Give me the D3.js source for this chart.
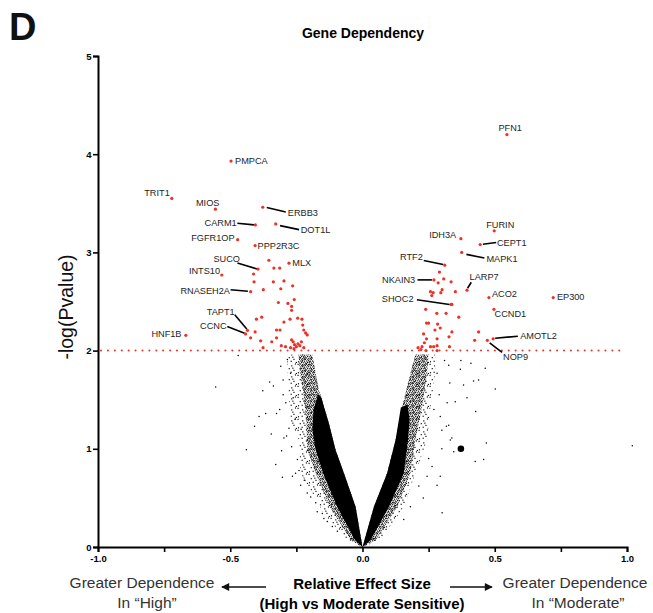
<!DOCTYPE html>
<html><head><meta charset="utf-8">
<script src="https://cdn.jsdelivr.net/npm/d3@7"></script>
<style>
html,body{margin:0;padding:0;background:#fff;}
svg{display:block;font-family:"Liberation Sans",Arial,Helvetica,sans-serif;}
</style></head>
<body>
<svg id="chart" width="653" height="613"></svg>
<script>
// ---------- DATA (effect size, -log p) ----------
const xTickValues = [-1, -0.75, -0.5, -0.25, 0, 0.25, 0.5, 0.75, 1];
const xTickLabels = ["-1.0", "", "-0.5", "", "0.0", "", "0.5", "", "1.0"];
const yTickValues = [0, 1, 2, 3, 4, 5];
const threshold = 2;

// envelopes of the dense (non-significant) gene cloud, left arm
const leftInnerEdge = [[0,0],[-0.026,0.41],[-0.07,0.75],[-0.102,0.99],[-0.127,1.26],[-0.146,1.43],[-0.165,1.6],[-0.177,1.77],[-0.19,1.96]];
const leftCoreOuter = [[0,0],[-0.028,0.07],[-0.096,0.41],[-0.149,0.75],[-0.177,0.99],[-0.19,1.2],[-0.185,1.4],[-0.168,1.55]];
const leftDenseOuter = [[0,0],[-0.045,0.07],[-0.123,0.41],[-0.177,0.75],[-0.209,0.99],[-0.212,1.26],[-0.218,1.43],[-0.225,1.6],[-0.236,1.77],[-0.242,1.96]];
const leftHaloOuter = [[0,0],[-0.06,0.07],[-0.146,0.34],[-0.196,0.58],[-0.234,0.75],[-0.24,1.09],[-0.27,1.26],[-0.28,1.6],[-0.285,1.96]];
// right arm
const rightInnerEdge = [[0,0],[0.043,0.41],[0.093,0.75],[0.125,1.09],[0.15,1.43],[0.181,1.77],[0.2,1.96]];
const rightCoreOuter = [[0,0],[0.03,0.07],[0.1,0.41],[0.156,0.75],[0.172,1.09],[0.178,1.3],[0.17,1.45]];
const rightDenseOuter = [[0,0],[0.05,0.07],[0.131,0.41],[0.181,0.75],[0.2,1.09],[0.225,1.43],[0.244,1.77],[0.25,1.96]];
const rightHaloOuter = [[0,0],[0.068,0.07],[0.156,0.41],[0.2,0.75],[0.244,1.09],[0.257,1.43],[0.275,1.77],[0.275,1.96]];

// scattered non-significant genes
const blackLeft = [[-0.555,1.63],[-0.47,1.95],[-0.439,0.99],[-0.408,1.23],[-0.391,1.33],[-0.377,1.59],[-0.366,1.36],[-0.351,1.68],[-0.345,1.15],[-0.337,1.64],[-0.328,0.84],[-0.325,1.36],[-0.313,1.40],[-0.309,1.84],[-0.306,0.98],[-0.303,0.71],[-0.297,1.11],[-0.29,1.47],[-0.287,1.13],[-0.284,1.91],[-0.278,1.21],[-0.272,1.77],[-0.265,0.72],[-0.253,0.75],[-0.246,0.89],[-0.24,0.78],[-0.234,0.63],[-0.209,0.55],[-0.196,0.51],[-0.177,0.45],[-0.171,0.36],[-0.152,0.34],[-0.146,0.29],[-0.133,0.26],[-0.114,0.21],[-0.095,0.16],[-0.3,1.55],[-0.262,1.52],[-0.268,1.02],[-0.255,1.3],[-0.22,0.68],[-0.232,1.2],[-0.3,1.7]];
const blackRight = [[0.301,0.35],[0.317,1.23],[0.326,1.85],[0.33,1.67],[0.338,1.11],[0.351,1.48],[0.372,1.90],[0.382,1.65],[0.395,1.52],[0.41,1.87],[0.42,1.69],[0.426,0.87],[0.428,1.38],[0.439,1.70],[0.458,0.89],[0.464,1.82],[0.468,1.06],[0.502,1.61],[0.294,1.33],[0.30,1.19],[0.332,1.09],[0.326,1.24],[0.263,0.82],[0.282,0.63],[0.244,0.72],[0.213,0.62],[0.181,0.41],[0.156,0.28],[0.345,0.97],[0.294,0.72],[0.32,1.47],[0.37,1.81],[0.282,1.77],[0.29,1.55],[0.31,1.9],[0.3,1.0],[0.27,1.4],[0.25,0.9],[0.23,0.5],[1.02,1.03]];
const bigBlack = [[0.372,1.0]];

// significant genes without a label
const redLeft = [[-0.354,2.92],[-0.335,2.84],[-0.313,2.84],[-0.412,2.78],[-0.41,2.70],[-0.337,2.70],[-0.297,2.71],[-0.375,2.62],[-0.309,2.63],[-0.264,2.66],[-0.318,2.49],[-0.282,2.48],[-0.258,2.52],[-0.268,2.45],[-0.268,2.41],[-0.401,2.32],[-0.381,2.34],[-0.297,2.29],[-0.274,2.32],[-0.245,2.33],[-0.229,2.32],[-0.226,2.26],[-0.222,2.21],[-0.215,2.18],[-0.209,2.16],[-0.325,2.21],[-0.312,2.21],[-0.406,2.19],[-0.423,2.13],[-0.385,2.10],[-0.343,2.09],[-0.325,2.13],[-0.376,2.03],[-0.307,2.05],[-0.268,2.11],[-0.262,2.09],[-0.257,2.06],[-0.25,2.04],[-0.244,2.07],[-0.237,2.05],[-0.222,2.03],[-0.272,2.03],[-0.291,2.04],[-0.259,2.02],[-0.231,2.09]];
const redRight = [[0.291,2.80],[0.307,2.73],[0.286,2.69],[0.335,2.70],[0.351,2.60],[0.257,2.60],[0.267,2.59],[0.262,2.56],[0.301,2.62],[0.296,2.59],[0.335,2.47],[0.239,2.42],[0.281,2.38],[0.316,2.38],[0.364,2.34],[0.242,2.28],[0.25,2.28],[0.284,2.27],[0.274,2.21],[0.338,2.19],[0.294,2.23],[0.231,2.17],[0.242,2.12],[0.282,2.12],[0.327,2.14],[0.439,2.19],[0.424,2.105],[0.234,2.08],[0.225,2.04],[0.21,2.03],[0.221,2.01],[0.257,2.04],[0.269,2.04],[0.282,2.05],[0.329,2.04],[0.24,2.0],[0.282,2.0]];

// labelled significant genes
const geneNames = ["PMPCA","TRIT1","MIOS","ERBB3","CARM1","DOT1L","FGFR1OP","PPP2R3C","SUCO","MLX","INTS10","RNASEH2A","TAPT1","CCNC","HNF1B","PFN1","FURIN","IDH3A","CEPT1","MAPK1","RTF2","NKAIN3","LARP7","ACO2","EP300","SHOC2","CCND1","AMOTL2","NOP9"];
const geneEffect = [-0.497,-0.721,-0.556,-0.377,-0.405,-0.328,-0.472,-0.406,-0.395,-0.278,-0.532,-0.423,-0.435,-0.442,-0.668,0.546,0.498,0.372,0.445,0.375,0.311,0.27,0.395,0.478,0.721,0.338,0.497,0.494,0.472];
const geneLogP   = [3.93,3.55,3.44,3.46,3.28,3.29,3.13,3.07,2.83,2.89,2.77,2.60,2.206,2.17,2.156,4.20,3.22,3.14,3.08,3.0,2.87,2.72,2.615,2.54,2.54,2.47,2.42,2.12,2.105];

// ---------- LAYOUT (label placement, px relative to the point) ----------
const labelLayout = {
  PMPCA:{dx:4,dy:3.2,a:"start"}, TRIT1:{dx:-2,dy:-2,a:"end"}, MIOS:{dx:4,dy:-3,a:"end"},
  ERBB3:{dx:25,dy:8.5,a:"start",line:[4,0.3,23,4.7]}, CARM1:{dx:-18.7,dy:1.2,a:"end",line:[-18,-1.6,-1.4,0]},
  DOT1L:{dx:25,dy:9,a:"start",line:[4.3,1.7,23.3,5.7]}, FGFR1OP:{dx:-3,dy:1.8,a:"end"},
  PPP2R3C:{dx:2.4,dy:3.2,a:"start"}, SUCO:{dx:-18,dy:-7,a:"end",line:[-20.6,-6,-0.6,0]},
  MLX:{dx:3.4,dy:3.2,a:"start"}, INTS10:{dx:-1.7,dy:-0.7,a:"end"},
  RNASEH2A:{dx:-20.7,dy:2.2,a:"end",line:[-20,-2,-2.7,-0.4]},
  TAPT1:{dx:-12.7,dy:-15.5,a:"end",line:[-12.7,-15.7,-0.7,-1.4]},
  CCNC:{dx:-19,dy:-5,a:"end",line:[-18.3,-7.3,-1,-0.7]}, HNF1B:{dx:-4.3,dy:1.3,a:"end"},
  PFN1:{dx:3.3,dy:-3.7,a:"middle"}, FURIN:{dx:-8,dy:-2.5,a:"start"}, IDH3A:{dx:-4.7,dy:-0.3,a:"end"},
  CEPT1:{dx:16.7,dy:1.9,a:"start",line:[2.7,-0.3,16,-2]}, MAPK1:{dx:24.7,dy:9.8,a:"start",line:[4.7,2,22.7,5.6]},
  RTF2:{dx:-22,dy:-5.5,a:"end",line:[-21,-4.7,-1.6,-0.7]}, NKAIN3:{dx:-18.7,dy:3,a:"end",line:[-16.4,0,-2,0]},
  LARP7:{dx:2.6,dy:-10.2,a:"start",line:[4.3,-8,0.6,-2]}, ACO2:{dx:3,dy:-0.8,a:"start"},
  EP300:{dx:3.7,dy:2,a:"start"}, SHOC2:{dx:-38.4,dy:-2.5,a:"end",line:[-35,-4.7,-2.4,0]},
  CCND1:{dx:0.6,dy:7.2,a:"start"}, AMOTL2:{dx:27,dy:0,a:"start",line:[2,-0.6,24.7,-2.6]},
  NOP9:{dx:15.7,dy:19.3,a:"start",line:[2.3,2.6,14.7,12]}
};

const RED = "#ee3124";
const svg = d3.select("#chart");
const x = d3.scaleLinear().domain([-1, 1]).range([98, 627]);
const y = d3.scaleLinear().domain([0, 5]).range([547, 56]);

// stipple textures (styling only)
const defs = svg.append("defs");
function stipple(id, size, dots){
  const p = defs.append("pattern").attr("id",id).attr("patternUnits","userSpaceOnUse").attr("width",size).attr("height",size);
  dots.forEach(q=>p.append("rect").attr("x",q[0]).attr("y",q[1]).attr("width",1.15).attr("height",1.15).attr("fill","#000"));
}
stipple("sparse", 11, [[0.5,0.8],[5.2,2.3],[8.9,0.4],[2.7,5.1],[7.4,6.8],[0.9,9.2],[4.6,8.7],[9.8,9.9],[6.3,4.6]]);
stipple("dense", 6, [[0.2,0.4],[2.1,0.1],[4.0,0.6],[1.1,1.9],[3.2,2.2],[5.0,2.5],[0.1,3.4],[2.2,3.9],[4.2,4.1],[1.2,5.1],[3.3,5.4],[5.1,4.8]]);

function outline(outer, inner){ return outer.concat(inner.slice().reverse()); }
const line = d3.line().x(d=>x(d[0])).y(d=>y(d[1])).curve(d3.curveLinearClosed);
const cloud = svg.append("g");
cloud.append("path").attr("d", line(outline(leftHaloOuter, leftInnerEdge))).attr("fill","url(#sparse)");
cloud.append("path").attr("d", line(outline(rightHaloOuter, rightInnerEdge))).attr("fill","url(#sparse)");
cloud.append("path").attr("d", line(outline(leftDenseOuter, leftInnerEdge))).attr("fill","url(#dense)");
cloud.append("path").attr("d", line(outline(rightDenseOuter, rightInnerEdge))).attr("fill","url(#dense)");
cloud.append("path").attr("d", line(outline(leftCoreOuter, leftInnerEdge.filter(d=>d[1]<=1.43).concat([[-0.155,1.52]])))).attr("fill","#000");
cloud.append("path").attr("d", line(outline(rightCoreOuter, rightInnerEdge.filter(d=>d[1]<=1.09).concat([[0.145,1.42]])))).attr("fill","#000");

cloud.selectAll("circle.b").data(blackLeft.concat(blackRight)).join("circle")
  .attr("cx",d=>x(d[0])).attr("cy",d=>y(d[1])).attr("r",0.75).attr("fill","#000");
cloud.selectAll("circle.big").data(bigBlack).join("circle")
  .attr("cx",d=>x(d[0])).attr("cy",d=>y(d[1])).attr("r",3.3).attr("fill","#000");

// threshold line
svg.append("line").attr("x1",x(-1)+3).attr("x2",x(0.98)).attr("y1",y(threshold)).attr("y2",y(threshold))
  .attr("stroke",RED).attr("stroke-width",2).attr("stroke-linecap","round").attr("stroke-dasharray","0.01,6.9");

// axes
const xAxis = svg.append("g").attr("transform",`translate(0,${y(0)})`)
  .call(d3.axisBottom(x).tickValues(xTickValues).tickFormat((d,i)=>xTickLabels[i]).tickSize(5).tickPadding(3));
const yAxis = svg.append("g").attr("transform",`translate(${x(-1)},0)`)
  .call(d3.axisLeft(y).tickValues(yTickValues).tickFormat(d3.format("d")).tickSize(5).tickPadding(1.5));
[xAxis,yAxis].forEach(g=>{
  g.select(".domain").attr("stroke","#000").attr("stroke-width",2);
  g.selectAll(".tick line").attr("stroke","#000").attr("stroke-width",1.6);
  g.selectAll(".tick text").attr("fill","#000").attr("font-weight","bold").attr("font-size",9.5)
   .attr("font-family","'Liberation Sans',Arial,sans-serif");
});

// red points
const genes = geneNames.map((g,i)=>({gene:g, fx:geneEffect[i], ly:geneLogP[i]}));
svg.append("g").selectAll("circle").data(redLeft.concat(redRight)).join("circle")
  .attr("cx",d=>x(d[0])).attr("cy",d=>y(d[1])).attr("r",1.6).attr("fill",RED);
const lg = svg.append("g");
genes.forEach(d=>{
  const L = labelLayout[d.gene]; const px = x(d.fx), py = y(d.ly);
  if (L.line) lg.append("line").attr("x1",px+L.line[0]).attr("y1",py+L.line[1]).attr("x2",px+L.line[2]).attr("y2",py+L.line[3])
    .attr("stroke","#000").attr("stroke-width",1.6);
  lg.append("circle").attr("cx",px).attr("cy",py).attr("r",1.6).attr("fill",RED);
  lg.append("text").attr("x",px+L.dx).attr("y",py+L.dy).attr("text-anchor",L.a)
    .attr("font-size",9.2).attr("fill","#1e1e1e").text(d.gene);
});

// titles
svg.append("text").attr("x",9).attr("y",40).attr("font-size",38).attr("font-weight","bold").attr("fill","#111").text("D");
svg.append("text").attr("x",363).attr("y",38).attr("text-anchor","middle").attr("font-size",14).attr("font-weight","bold").text("Gene Dependency");
svg.append("text").attr("transform","translate(73,307) rotate(-90)").attr("text-anchor","middle")
  .attr("font-size",19.5).attr("fill","#111").text("-log(Pvalue)");
svg.append("text").attr("x",362).attr("y",589).attr("text-anchor","middle").attr("font-size",15).attr("font-weight","bold").text("Relative Effect Size");
svg.append("text").attr("x",362).attr("y",609).attr("text-anchor","middle").attr("font-size",15).attr("font-weight","bold").text("(High vs Moderate Sensitive)");
svg.append("text").attr("x",142).attr("y",588).attr("text-anchor","middle").attr("font-size",15.5).attr("fill","#333").text("Greater Dependence");
svg.append("text").attr("x",147).attr("y",608).attr("text-anchor","middle").attr("font-size",15.5).attr("fill","#333").text("In \u201cHigh\u201d");
svg.append("text").attr("x",575).attr("y",588).attr("text-anchor","middle").attr("font-size",15.5).attr("fill","#333").text("Greater Dependence");
svg.append("text").attr("x",578).attr("y",608).attr("text-anchor","middle").attr("font-size",15.5).attr("fill","#333").text("In \u201cModerate\u201d");

// arrows
defs.append("marker").attr("id","ah").attr("viewBox","0 0 10 10").attr("refX",9).attr("refY",5)
  .attr("markerWidth",12).attr("markerHeight",8).attr("markerUnits","userSpaceOnUse").attr("orient","auto")
  .append("path").attr("d","M0,0 L10,5 L0,10 Z").attr("fill","#111");
svg.append("line").attr("x1",266).attr("x2",222).attr("y1",587).attr("y2",587).attr("stroke","#111").attr("stroke-width",1.3).attr("marker-end","url(#ah)");
svg.append("line").attr("x1",450).attr("x2",492).attr("y1",587).attr("y2",587).attr("stroke","#111").attr("stroke-width",1.3).attr("marker-end","url(#ah)");
</script>
</body></html>
